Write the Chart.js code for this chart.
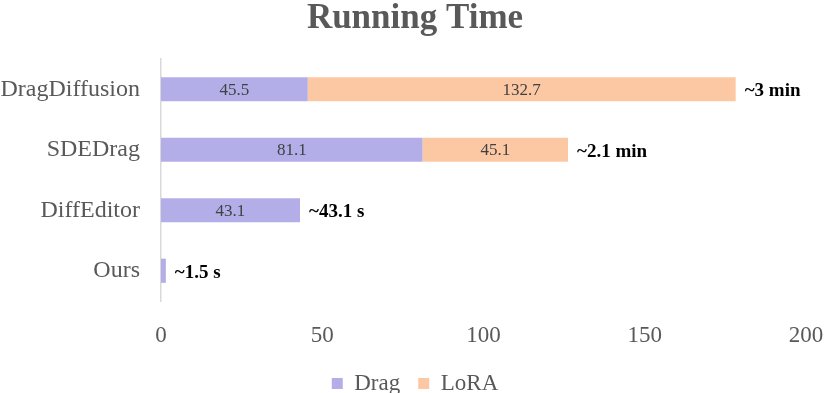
<!DOCTYPE html>
<html>
<head>
<meta charset="utf-8">
<script src="https://cdn.jsdelivr.net/npm/chart.js@4.4.0/dist/chart.umd.min.js"></script>
<style>
  html, body { margin: 0; padding: 0; background: #fff; overflow: hidden; }
  #wrap { width: 830px; height: 405px; position: relative; }
</style>
</head>
<body>
<div id="wrap"><canvas id="running-chart"></canvas></div>
<script>
var methods = ['DragDiffusion', 'SDEDrag', 'DiffEditor', 'Ours'];
var dragTimes = [45.5, 81.1, 43.1, 1.5];
var loraTimes = [132.7, 45.1, null, null];
var totalLabels = ['~3 min', '~2.1 min', '~43.1 s', '~1.5 s'];
var xTicks = [0, 50, 100, 150, 200];

var serif = '"Liberation Serif", "Times New Roman", serif';

// writes the numbers in the bars and the total at the end of each row
var barLabels = {
  id: 'barLabels',
  afterDatasetsDraw: function(chart) {
    var ctx = chart.ctx;
    ctx.save();
    ctx.textBaseline = 'middle';
    chart.data.datasets.forEach(function(ds, i) {
      var meta = chart.getDatasetMeta(i);
      meta.data.forEach(function(bar, j) {
        var v = ds.data[j];
        if (v == null || v < 5) return;
        ctx.font = '17px ' + serif;
        ctx.fillStyle = '#404040';
        ctx.textAlign = 'center';
        ctx.fillText(String(v), (bar.x + bar.base) / 2, bar.y + 1);
      });
    });
    var drag = chart.getDatasetMeta(0).data;
    var lora = chart.getDatasetMeta(1).data;
    totalLabels.forEach(function(txt, j) {
      var end = loraTimes[j] != null ? lora[j].x : drag[j].x;
      ctx.font = 'bold 19px ' + serif;
      ctx.fillStyle = '#000';
      ctx.textAlign = 'left';
      ctx.fillText(txt, end + 9, drag[j].y + 2);
    });
    ctx.restore();
  }
};

new Chart(document.getElementById('running-chart'), {
  type: 'bar',
  data: {
    labels: methods,
    datasets: [
      { label: 'Drag', data: dragTimes, backgroundColor: '#b4aee8', barPercentage: 0.4, categoryPercentage: 1 },
      { label: 'LoRA', data: loraTimes, backgroundColor: '#fcc8a4', barPercentage: 0.4, categoryPercentage: 1 }
    ]
  },
  options: {
    indexAxis: 'y',
    responsive: true,
    maintainAspectRatio: false,
    animation: false,
    layout: { padding: 0 },
    plugins: {
      title: {
        display: true,
        text: 'Running Time',
        color: '#595959',
        font: { family: serif, size: 35, weight: 'bold', lineHeight: 1 },
        padding: { top: 1, bottom: 23 }
      },
      legend: {
        position: 'bottom',
        labels: {
          color: '#595959',
          font: { family: serif, size: 23 },
          boxWidth: 11,
          boxHeight: 11,
          padding: 18
        }
      },
      tooltip: { enabled: false }
    },
    scales: {
      x: {
        stacked: true,
        min: 0,
        max: 200,
        afterBuildTicks: function(axis) {
          axis.ticks = xTicks.map(function(v) { return { value: v }; });
        },
        grid: { display: false, drawTicks: false },
        border: { display: false },
        ticks: { color: '#595959', font: { family: serif, size: 23 }, padding: 21 },
        afterFit: function(axis) {
          axis.height = 53;
          axis.paddingLeft = 0;
          axis.paddingRight = 24;
        }
      },
      y: {
        stacked: true,
        grid: { display: false, drawTicks: false },
        border: { display: true, color: '#d9d9d9', width: 1.5 },
        ticks: { color: '#595959', font: { family: serif, size: 24 }, padding: 21 },
        afterFit: function(axis) { axis.width = 161; }
      }
    }
  },
  plugins: [barLabels]
});
</script>
</body>
</html>
